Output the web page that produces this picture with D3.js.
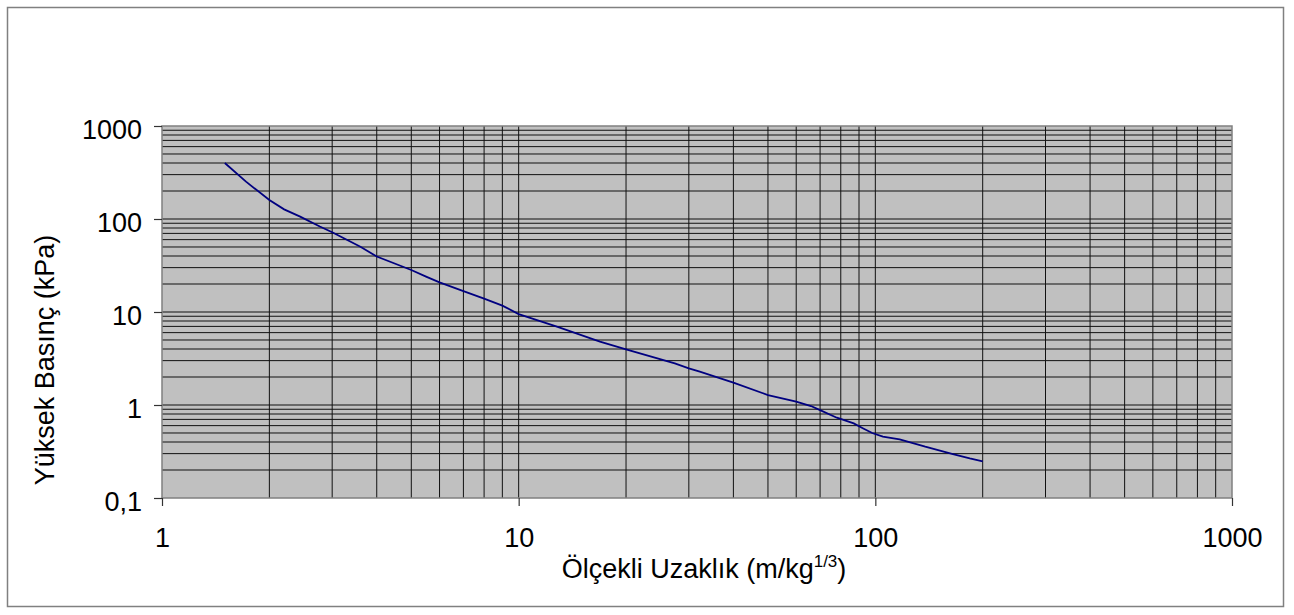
<!DOCTYPE html>
<html lang="tr">
<head>
  <meta charset="UTF-8">
  <title>Yüksek Basınç - Ölçekli Uzaklık</title>
  <script src="https://d3js.org/d3.v7.min.js"></script>
  <style>
    body { margin: 0; background: #fff; }
    svg { display: block; font-family: "Liberation Sans", Arial, sans-serif; }
  </style>
</head>
<body>
  <svg id="chart"></svg>
  <script>
    // Data
    const distance = [1.5, 1.72, 2, 2.2, 2.44, 2.77, 3, 3.6, 4, 5, 5.5, 6, 7, 8, 9, 10, 12.8, 16.9, 20, 27.4, 30, 32.2, 40, 50, 60, 66, 70, 78, 87, 92.5, 98, 105, 117, 138, 165, 184, 200];
    const pressure = [400, 252, 160, 127, 106, 83, 72, 50.4, 39.5, 28.3, 24, 20.8, 16.8, 13.9, 11.7, 9.5, 6.95, 4.8, 3.97, 2.8, 2.48, 2.28, 1.74, 1.28, 1.09, 0.975, 0.88, 0.73, 0.635, 0.56, 0.5, 0.456, 0.428, 0.356, 0.297, 0.267, 0.248];
    const xTicks = [1, 10, 100, 1000];
    const yTicks = [0.1, 1, 10, 100, 1000];
    const xTickLabels = ["1", "10", "100", "1000"];
    const yTickLabels = ["0,1", "1", "10", "100", "1000"];

    const width = 1294, height = 615;
    const margin = { top: 126, right: 62, bottom: 117, left: 162 };
    const innerW = width - margin.left - margin.right;
    const innerH = height - margin.top - margin.bottom;

    const svg = d3.select("#chart").attr("width", width).attr("height", height);

    // outer frame
    svg.append("rect")
      .attr("x", 7.5).attr("y", 7.5)
      .attr("width", 1276).attr("height", 599)
      .attr("fill", "#fff").attr("stroke", "#808080").attr("stroke-width", 1.5);

    const x = d3.scaleLog().domain([1, 1000]).range([0, innerW]);
    const y = d3.scaleLog().domain([0.1, 1000]).range([innerH, 0]);

    const g = svg.append("g").attr("transform", `translate(${margin.left},${margin.top})`);

    g.append("rect")
      .attr("width", innerW).attr("height", innerH)
      .attr("fill", "#c0c0c0");

    // gridlines (major + minor)
    const xGrid = x.ticks().filter(v => v > 1 && v < 1000);
    const yGrid = y.ticks().filter(v => v > 0.1 && v < 1000);

    g.append("g").selectAll("line")
      .data(yGrid).join("line")
      .attr("x1", 0).attr("x2", innerW)
      .attr("y1", d => y(d)).attr("y2", d => y(d))
      .attr("stroke", "#111").attr("stroke-width", 1);

    g.append("g").selectAll("line")
      .data(xGrid).join("line")
      .attr("y1", 0).attr("y2", innerH)
      .attr("x1", d => x(d)).attr("x2", d => x(d))
      .attr("stroke", "#111").attr("stroke-width", 1);

    // plot border
    g.append("rect")
      .attr("width", innerW).attr("height", innerH)
      .attr("fill", "none").attr("stroke", "#808080").attr("stroke-width", 1.5);

    // data line
    const pts = distance.map((d, i) => [d, pressure[i]]);
    g.append("path")
      .datum(pts)
      .attr("fill", "none")
      .attr("stroke", "#000080")
      .attr("stroke-width", 1.8)
      .attr("d", d3.line().x(d => x(d[0])).y(d => y(d[1])));

    // axes
    const xAxis = d3.axisBottom(x).tickValues(xTicks)
      .tickFormat((d, i) => xTickLabels[i]).tickSize(8).tickPadding(22);
    const yAxis = d3.axisLeft(y).tickValues(yTicks)
      .tickFormat((d, i) => yTickLabels[i]).tickSize(8).tickPadding(12);

    const gx = g.append("g").attr("transform", `translate(0,${innerH})`).call(xAxis);
    const gy = g.append("g").call(yAxis);
    [gx, gy].forEach(a => {
      a.select(".domain").remove();
      a.selectAll(".tick line").attr("stroke", "#333").attr("stroke-width", 1.2);
      a.selectAll(".tick text").attr("fill", "#000")
        .style("font-family", "'Liberation Sans', Arial, sans-serif")
        .style("font-size", "27px");
    });
    gy.selectAll(".tick text").attr("dy", "0.48em");

    // axis titles
    const xt = svg.append("text")
      .attr("x", 704).attr("y", 578)
      .attr("text-anchor", "middle")
      .style("font-size", "27px");
    xt.append("tspan").text("Ölçekli Uzaklık (m/kg");
    xt.append("tspan").attr("dy", -11).style("font-size", "17px").text("1/3");
    xt.append("tspan").attr("dy", 11).text(")");

    svg.append("text")
      .attr("transform", `translate(54,360) rotate(-90)`)
      .attr("text-anchor", "middle")
      .style("font-size", "27px")
      .text("Yüksek Basınç (kPa)");
  </script>
</body>
</html>
